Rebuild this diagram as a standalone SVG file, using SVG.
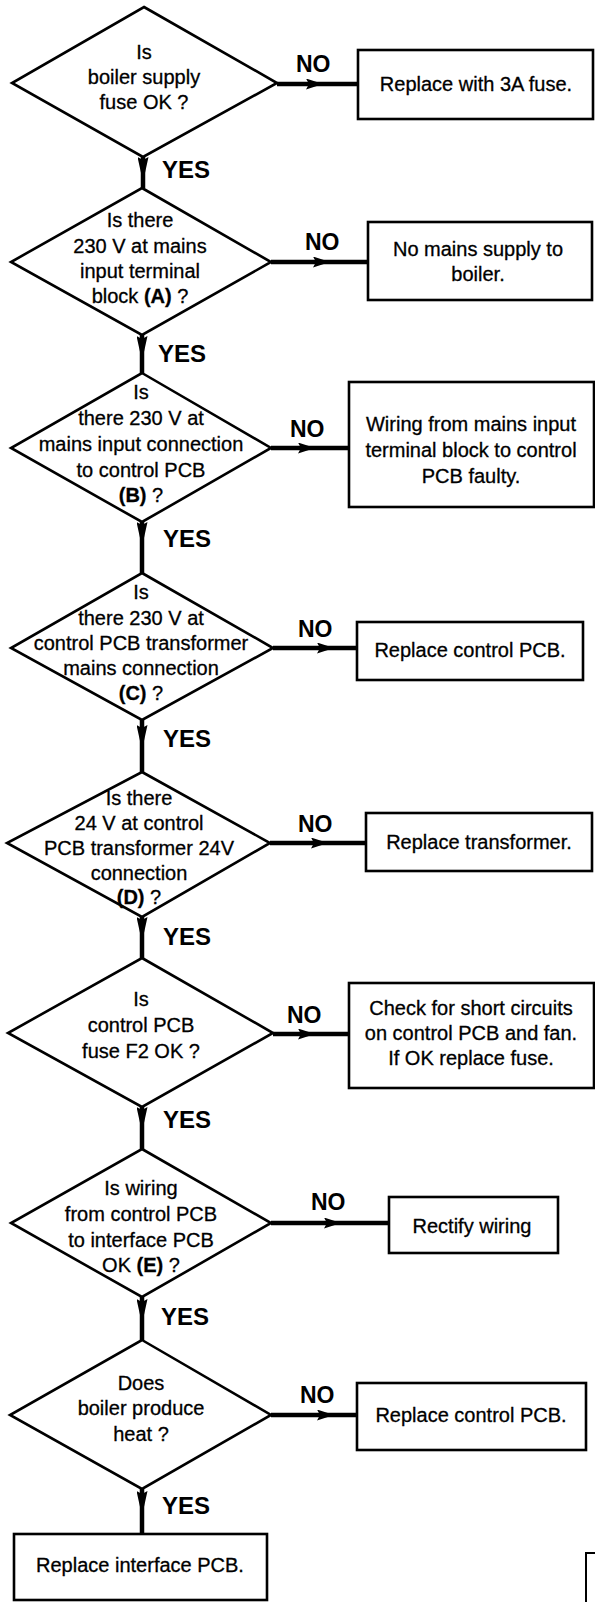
<svg xmlns="http://www.w3.org/2000/svg" width="595" height="1602" viewBox="0 0 595 1602">
<style>
.d{fill:#fff;stroke:#000;stroke-width:2.6;stroke-linejoin:miter}
.b{fill:#fff;stroke:#000;stroke-width:2.6}
.t{font-family:"Liberation Sans",Arial,sans-serif;font-size:20px;fill:#000;stroke:#000;stroke-width:0.3;text-anchor:middle}
.k{font-weight:bold}
.no{font-family:"Liberation Sans",Arial,sans-serif;font-size:23px;font-weight:bold;fill:#000}
.yes{font-family:"Liberation Sans",Arial,sans-serif;font-size:24px;font-weight:bold;fill:#000}
.c{fill:none;stroke:#000;stroke-width:4.5}
.h{marker-mid:url(#ah)}
.v{marker-mid:url(#av)}
</style>
<defs>
<marker id="ah" markerUnits="userSpaceOnUse" markerWidth="17" markerHeight="11" viewBox="0 0 17 11" refX="17" refY="5.5" orient="auto"><path d="M0,0 L17,5.5 L0,11 L3,5.5 Z" fill="#000"/></marker>
<marker id="av" markerUnits="userSpaceOnUse" markerWidth="25" markerHeight="11" viewBox="0 0 25 11" refX="25" refY="5.5" orient="auto"><path d="M0,0 L25,5.5 L0,11 L3,5.5 Z" fill="#000"/></marker>
</defs>

<g id="connectors">
<path class="c h" d="M277,84 L323,84 L358,84"/>
<path class="c h" d="M271,262 L330,262 L368,262"/>
<path class="c h" d="M271,448 L315,448 L349,448"/>
<path class="c h" d="M273,648 L334,648 L357,648"/>
<path class="c h" d="M270,843 L328,843 L366,843"/>
<path class="c h" d="M273,1034 L315,1034 L349,1034"/>
<path class="c h" d="M271,1223 L341,1223 L389,1223"/>
<path class="c h" d="M271,1415 L334,1415 L357,1415"/>
<path class="c v" d="M143,157 L143,182 L143,188"/>
<path class="c v" d="M142,335 L142,361 L142,373"/>
<path class="c v" d="M142,522 L142,547 L142,573"/>
<path class="c v" d="M142,720 L142,750 L142,772"/>
<path class="c v" d="M142,917 L142,942 L142,958"/>
<path class="c v" d="M142,1107 L142,1132 L142,1149"/>
<path class="c v" d="M142,1297 L142,1324 L142,1340"/>
<path class="c v" d="M142,1489 L142,1516 L142,1534"/>
<text class="no" x="296" y="72">NO</text>
<text class="no" x="305" y="250">NO</text>
<text class="no" x="290" y="437">NO</text>
<text class="no" x="298" y="637">NO</text>
<text class="no" x="298" y="832">NO</text>
<text class="no" x="287" y="1023">NO</text>
<text class="no" x="311" y="1210">NO</text>
<text class="no" x="300" y="1403">NO</text>
<text class="yes" x="162" y="178">YES</text>
<text class="yes" x="158" y="362">YES</text>
<text class="yes" x="163" y="547">YES</text>
<text class="yes" x="163" y="747">YES</text>
<text class="yes" x="163" y="945">YES</text>
<text class="yes" x="163" y="1128">YES</text>
<text class="yes" x="161" y="1325">YES</text>
<text class="yes" x="162" y="1514">YES</text>
</g>

<g id="q1">
<polygon class="d" points="144,7 277,83 143,157 12,83"/>
<text class="t" x="144" y="59">Is</text>
<text class="t" x="144" y="84">boiler supply</text>
<text class="t" x="144" y="109">fuse OK ?</text>
</g>
<g id="a1">
<rect class="b" x="358" y="50" width="235" height="69"/>
<text class="t" x="476" y="91">Replace with 3A fuse.</text>
</g>

<g id="q2">
<polygon class="d" points="142,188 271,262 142,335 11,262"/>
<text class="t" x="140" y="227">Is there</text>
<text class="t" x="140" y="253">230 V at mains</text>
<text class="t" x="140" y="278">input terminal</text>
<text class="t" x="140" y="303">block <tspan class="k">(A)</tspan> ?</text>
</g>
<g id="a2">
<rect class="b" x="368" y="222" width="224" height="78"/>
<text class="t" x="478" y="256">No mains supply to</text>
<text class="t" x="478" y="281">boiler.</text>
</g>

<g id="q3">
<polygon class="d" points="142,373 271,448 142,522 11,448"/>
<text class="t" x="141" y="399">Is</text>
<text class="t" x="141" y="425">there 230 V at</text>
<text class="t" x="141" y="451">mains input connection</text>
<text class="t" x="141" y="477">to control PCB</text>
<text class="t" x="141" y="502"><tspan class="k">(B)</tspan> ?</text>
</g>
<g id="a3">
<rect class="b" x="349" y="382" width="245" height="125"/>
<text class="t" x="471" y="431">Wiring from mains input</text>
<text class="t" x="471" y="457">terminal block to control</text>
<text class="t" x="471" y="483">PCB faulty.</text>
</g>

<g id="q4">
<polygon class="d" points="142,573 273,648 142,720 11,648"/>
<text class="t" x="141" y="599">Is</text>
<text class="t" x="141" y="625">there 230 V at</text>
<text class="t" x="141" y="650">control PCB transformer</text>
<text class="t" x="141" y="675">mains connection</text>
<text class="t" x="141" y="700"><tspan class="k">(C)</tspan> ?</text>
</g>
<g id="a4">
<rect class="b" x="357" y="622" width="226" height="58"/>
<text class="t" x="470" y="657">Replace control PCB.</text>
</g>

<g id="q5">
<polygon class="d" points="142,772 270,843 142,917 7,843"/>
<text class="t" x="139" y="805">Is there</text>
<text class="t" x="139" y="830">24 V at control</text>
<text class="t" x="139" y="855">PCB transformer 24V</text>
<text class="t" x="139" y="880">connection</text>
<text class="t" x="139" y="904"><tspan class="k">(D)</tspan> ?</text>
</g>
<g id="a5">
<rect class="b" x="366" y="813" width="226" height="58"/>
<text class="t" x="479" y="849">Replace transformer.</text>
</g>

<g id="q6">
<polygon class="d" points="142,958 273,1033 142,1107 8,1033"/>
<text class="t" x="141" y="1006">Is</text>
<text class="t" x="141" y="1032">control PCB</text>
<text class="t" x="141" y="1058">fuse F2 OK ?</text>
</g>
<g id="a6">
<rect class="b" x="349" y="983" width="245" height="105"/>
<text class="t" x="471" y="1015">Check for short circuits</text>
<text class="t" x="471" y="1040">on control PCB and fan.</text>
<text class="t" x="471" y="1065">If OK replace fuse.</text>
</g>

<g id="q7">
<polygon class="d" points="142,1149 271,1223 142,1297 11,1223"/>
<text class="t" x="141" y="1195">Is wiring</text>
<text class="t" x="141" y="1221">from control PCB</text>
<text class="t" x="141" y="1247">to interface PCB</text>
<text class="t" x="141" y="1272">OK <tspan class="k">(E)</tspan> ?</text>
</g>
<g id="a7">
<rect class="b" x="389" y="1197" width="169" height="56"/>
<text class="t" x="472" y="1233">Rectify wiring</text>
</g>

<g id="q8">
<polygon class="d" points="142,1340 271,1415 142,1489 10,1415"/>
<text class="t" x="141" y="1390">Does</text>
<text class="t" x="141" y="1415">boiler produce</text>
<text class="t" x="141" y="1441">heat ?</text>
</g>
<g id="a8">
<rect class="b" x="357" y="1383" width="229" height="67"/>
<text class="t" x="471" y="1422">Replace control PCB.</text>
</g>

<g id="a9">
<rect class="b" x="14" y="1534" width="253" height="66"/>
<text class="t" x="140" y="1572">Replace interface PCB.</text>
</g>

<g id="fragment">
<path d="M586,1602 V1553 H595" fill="none" stroke="#000" stroke-width="2"/>
</g>
</svg>
